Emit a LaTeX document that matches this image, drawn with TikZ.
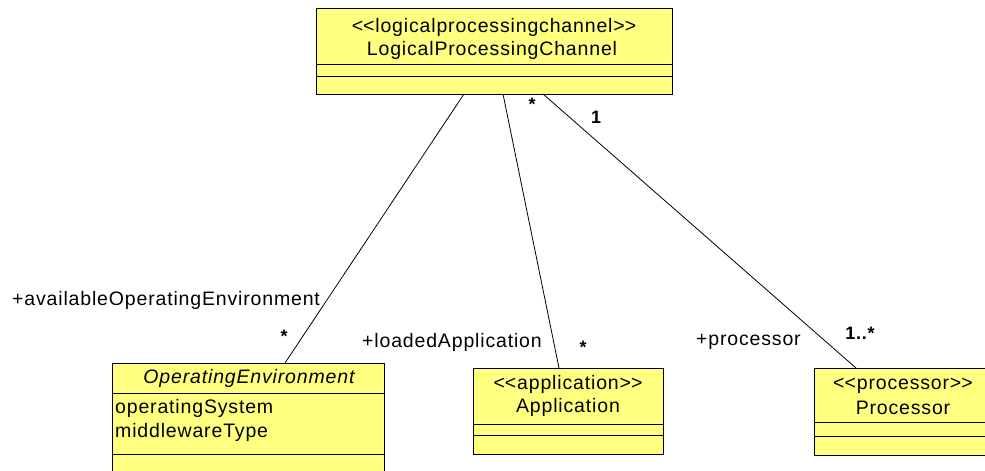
\documentclass[tikz,border=0pt]{standalone}
\usepackage{fontspec}
\setmainfont[LetterSpace=4.3]{Liberation Sans}
\usetikzlibrary{calc}
\definecolor{umlfill}{RGB}{255,255,128}
\newcommand\myltlt{<\kern0pt<}
\newcommand\mygtgt{>\kern0pt>}
\tikzset{
  cls/.style={draw=black, line width=1pt, fill=umlfill, inner sep=0pt, outer sep=0pt},
  txt/.style={inner sep=0pt, font=\fontsize{19.5}{23}\selectfont},
  mult/.style={inner sep=0pt, font=\bfseries\fontsize{18}{21}\selectfont},
  assoc/.style={draw=black, line width=0.8pt},
  sepline/.style={draw=black, line width=1pt}
}
\begin{document}
\begin{tikzpicture}[x=1pt,y=-1pt]
\useasboundingbox (0,0) rectangle (985,471);
% classes
\node[cls, minimum width=356pt, minimum height=86pt] (lpc) at (494,51) {};
\node[cls, minimum width=272pt, minimum height=117pt] (oe) at (248,421.5) {};
\node[cls, minimum width=190pt, minimum height=86pt] (app) at (568,411) {};
\node[cls, minimum width=179pt, minimum height=87pt] (proc) at (903.5,411.5) {};
% compartments
\draw[sepline] ($(lpc.north west)+(0,56)$) -- ($(lpc.north east)+(0,56)$);
\draw[sepline] ($(lpc.north west)+(0,68)$) -- ($(lpc.north east)+(0,68)$);
\draw[sepline] ($(oe.north west)+(0,30)$) -- ($(oe.north east)+(0,30)$);
\draw[sepline] ($(oe.north west)+(0,91)$) -- ($(oe.north east)+(0,91)$);
\draw[sepline] ($(app.north west)+(0,56)$) -- ($(app.north east)+(0,56)$);
\draw[sepline] ($(app.north west)+(0,67)$) -- ($(app.north east)+(0,67)$);
\draw[sepline] ($(proc.north west)+(0,54)$) -- ($(proc.north east)+(0,54)$);
\draw[sepline] ($(proc.north west)+(0,68)$) -- ($(proc.north east)+(0,68)$);
% class texts
\node[txt] (lpcst) at (494,27) {\myltlt logicalprocessingchannel\mygtgt};
\node[txt] (lpcname) at (492,50) {LogicalProcessingChannel};
\node[txt, font=\itshape\fontsize{19.5}{23}\selectfont] (oename) at (249,378) {OperatingEnvironment};
\node[txt, anchor=west] (oeattr1) at (115,408) {operatingSystem};
\node[txt, anchor=west] (oeattr2) at (115,432) {middlewareType};
\node[txt] (appst) at (568,384) {\myltlt application\mygtgt};
\node[txt] (appname) at (568,407) {Application};
\node[txt] (procst) at (903,386) {\myltlt processor\mygtgt};
\node[txt] (procname) at (903,408) {Processor};
% associations
\draw[assoc] ($(lpc.south west)+(148,0)$) -- ($(oe.north west)+(173,0)$);
\draw[assoc] ($(lpc.south west)+(187,0)$) -- ($(app.north west)+(86,0)$);
\draw[assoc] ($(lpc.south west)+(227,0)$) -- ($(proc.north west)+(42,0)$);
% role names
\node[txt, anchor=west] (roleoe) at (12,300) {+availableOperatingEnvironment};
\node[txt, anchor=west] (roleapp) at (362,342) {+loadedApplication};
\node[txt, anchor=west] (roleproc) at (696,342) {+processor};
% multiplicities
\node[mult] (m1) at (532,104) {*};
\node[mult] (m2) at (596,117) {1};
\node[mult] (m3) at (284,336) {*};
\node[mult] (m4) at (583,347) {*};
\node[mult] (m5) at (860,333) {1..*};
\end{tikzpicture}
\end{document}
